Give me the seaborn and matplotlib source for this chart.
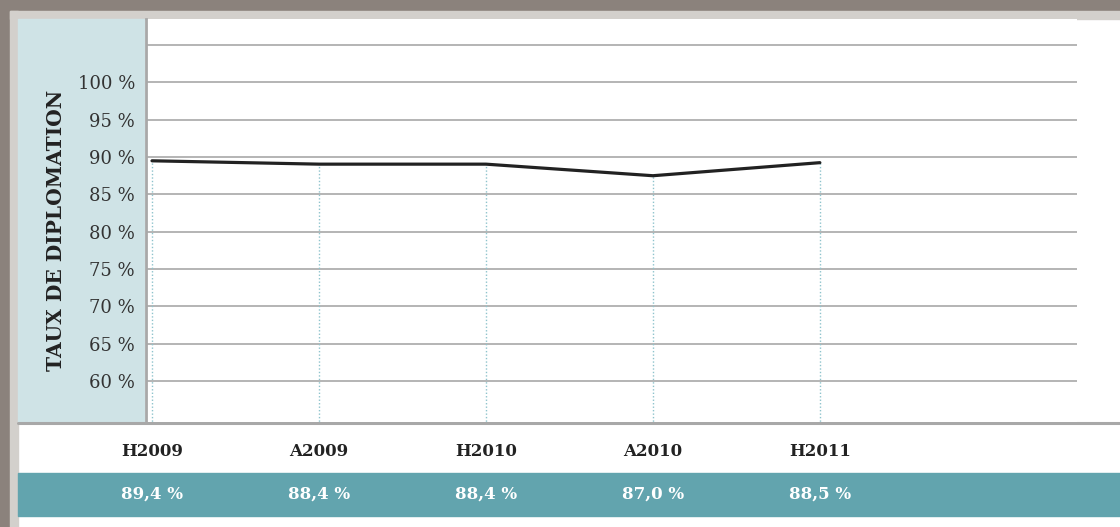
import matplotlib
matplotlib.use("Agg")
import matplotlib.pyplot as plt
from matplotlib.patches import Rectangle
from matplotlib.lines import Line2D
import matplotlib.transforms as mtransforms
import seaborn as sns
import pandas as pd

# Data
sessions = ["H2009", "A2009", "H2010", "A2010", "H2011"]
taux_courbe = [89.5, 89.05, 89.05, 87.5, 89.25]   # position of the plotted line
taux_table = ["89,4 %", "88,4 %", "88,4 %", "87,0 %", "88,5 %"]  # values printed in the table
y_ticks = [60, 65, 70, 75, 80, 85, 90, 95, 100, 105]

df = pd.DataFrame({"session": sessions, "taux": taux_courbe})

sns.set_theme(style="white")
plt.rcParams["font.family"] = ["DejaVu Serif"]

W, H = 1120, 527
fig = plt.figure(figsize=(W / 100, H / 100), dpi=100, facecolor="white")


def fx(px):
    return px / W


def fy(py):
    return 1 - py / H


# Frame and decorations (drawn below the axes)
dark = "#8b827c"
light = "#d3d0cc"
fig.patches.extend([
    Rectangle((0, fy(11)), 1, 11 / H, transform=fig.transFigure, color=dark, zorder=-2),
    Rectangle((0, 0), fx(10), 1, transform=fig.transFigure, color=dark, zorder=-2),
    Rectangle((fx(10), fy(19)), 1 - fx(10), 8 / H, transform=fig.transFigure, color=light, zorder=-2),
    Rectangle((fx(10), 0), 8 / W, fy(11), transform=fig.transFigure, color=light, zorder=-2),
    Rectangle((fx(18), fy(422)), (144 - 18) / W, (422 - 19) / H, transform=fig.transFigure,
              color="#cfe3e6", zorder=-2),
    Rectangle((fx(18), fy(516)), 1 - fx(18), (516 - 473) / H, transform=fig.transFigure,
              color="#62a4ae", zorder=-2),
])
fig.lines.append(Line2D([fx(18), 1], [fy(423), fy(423)], transform=fig.transFigure,
                        color="#a8a8a8", lw=2.2, zorder=-1))

ax = fig.add_axes([fx(146), fy(422), fx(1077) - fx(146), fy(19) - fy(422)])
ax.set_facecolor("white")

# Dotted drop lines
ax.vlines(range(len(sessions)), 50, taux_courbe, colors="#8ec3cc", linestyles=(0, (1, 1.5)),
          lw=1, zorder=1)

sns.lineplot(data=df, x="session", y="taux", color="#222222", lw=2.3, ax=ax, zorder=3)

ax.set_xlim(-0.036, 5.54)
ax.set_ylim(54.5, 108.5)
ax.set_yticks(y_ticks)
ax.set_yticklabels([f"{v} %" if v <= 100 else "" for v in y_ticks], fontsize=13, color="#333333")
ax.set_xticks([])
ax.tick_params(axis="y", length=0, pad=8)
ax.yaxis.grid(True, color="#b4b4b4", lw=1.4)
ax.set_axisbelow(True)
ax.set_xlabel("")
ax.set_ylabel("")
for s in ["top", "right", "bottom"]:
    ax.spines[s].set_visible(False)
ax.spines["left"].set_color("#a8a8a8")
ax.spines["left"].set_linewidth(2)

fig.text(fx(56), fy(230), "TAUX DE DIPLOMATION", rotation=90, ha="center", va="center",
         fontsize=14.5, fontweight="bold", color="#222222")

# Table under the chart
trans = mtransforms.blended_transform_factory(ax.transData, fig.transFigure)
for i, (s, t) in enumerate(zip(sessions, taux_table)):
    ax.text(i, fy(451), s, transform=trans, ha="center", va="center", fontsize=12,
            fontweight="bold", color="#222222", clip_on=False)
    ax.text(i, fy(494), t, transform=trans, ha="center", va="center", fontsize=12,
            fontweight="bold", color="white", clip_on=False)

fig.savefig("out.png", dpi=100, facecolor=fig.get_facecolor())
